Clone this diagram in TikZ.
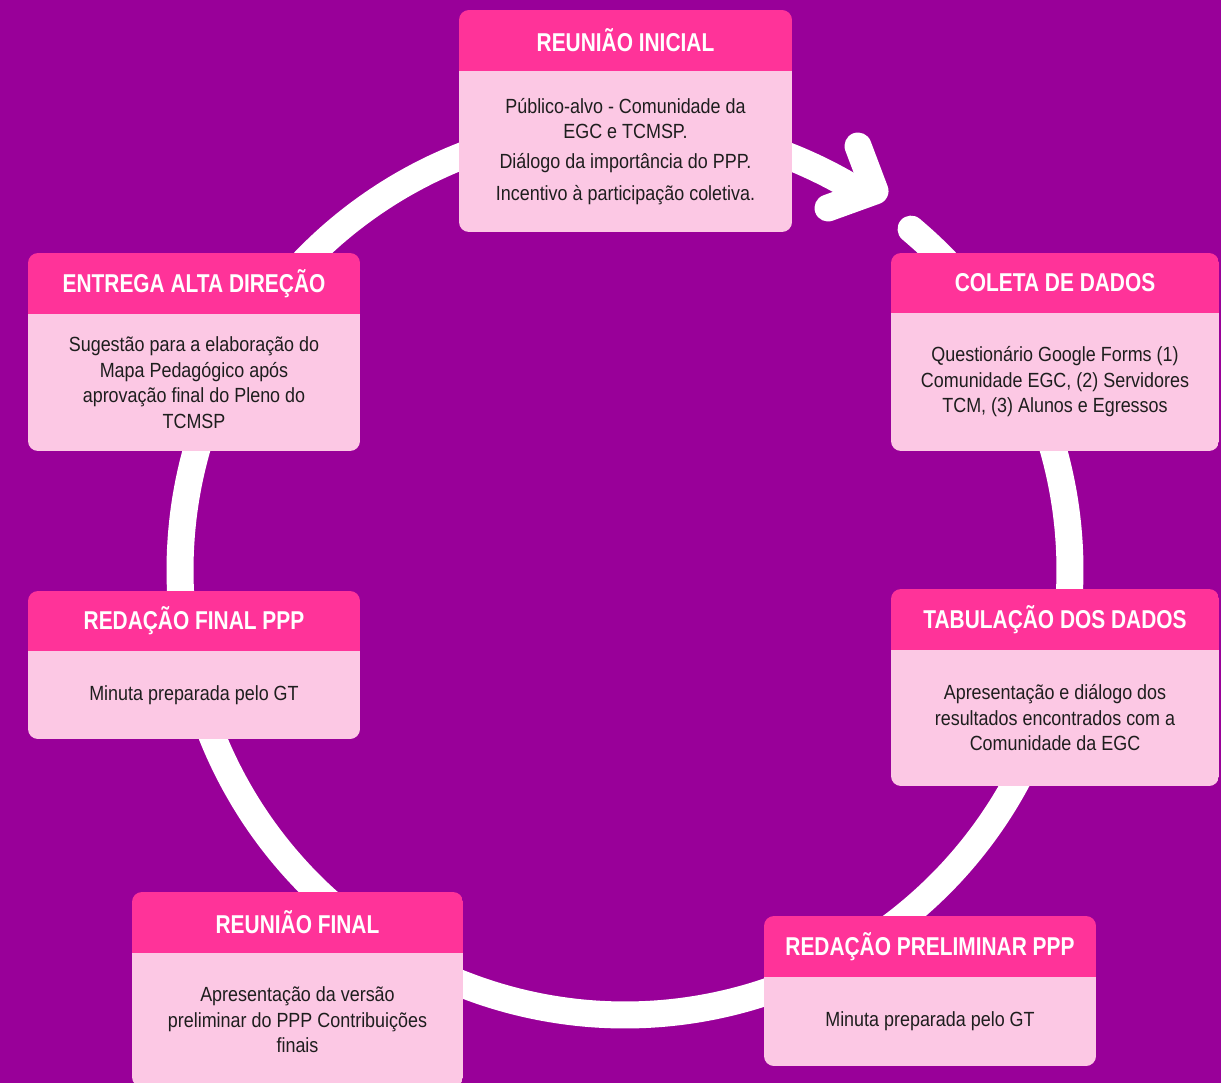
\documentclass[tikz,border=0pt]{standalone}
\usepackage{fontspec}
\setmainfont{Liberation Sans}[FakeStretch=0.875]
\newfontfamily\headfont{Liberation Sans}[FakeStretch=0.81]
\definecolor{bgpurple}{RGB}{153,0,153}
\definecolor{headpink}{RGB}{255,51,153}
\definecolor{bodypink}{RGB}{252,200,228}
\definecolor{txtdark}{RGB}{30,30,30}
\tikzset{
  ring/.style={draw=white, line width=27pt},
  titletxt/.style={text=white, inner sep=0pt, font=\headfont\bfseries\fontsize{25.8}{30}\selectfont},
  bodytxt/.style={text=txtdark, inner sep=0pt, align=center, font=\fontsize{20.5}{25.5}\selectfont},
}
\newcommand{\stagebox}[8]{%
  \begin{scope}
    \clip[rounded corners=10pt] (#2,#3) rectangle (#4,#6);
    \fill[bodypink] (#2,#5) rectangle (#4,#6);
    \fill[headpink] (#2,#3) rectangle (#4,#5);
  \end{scope}
  \node[titletxt] (#1-t) at ({(#2+#4)/2},{(#3+#5)/2}) {#7};
  \node[bodytxt] (#1-b) at ({(#2+#4)/2},{(#5+#6)/2}) {#8};
}
\begin{document}
\begin{tikzpicture}[x=1pt,y=-1pt]
\useasboundingbox (0,0) rectangle (1221,1083);
\fill[bgpurple] (0,0) rectangle (1221,1083);
% cycle ring
\draw[ring, line cap=round] plot[smooth, domain=-50:302, samples=160] ({625+445*cos(\x)},{570+445*sin(\x)});
% arrow head
\coordinate (ah1) at (858,146);
\coordinate (ahtip) at (875,191);
\coordinate (ah2) at (828,208);
\draw[ring, line cap=round, line join=round] (ah1) -- (ahtip) -- (ah2);
% stages
\stagebox{ini}{459}{10}{792}{71}{232}{REUNIÃO INICIAL}{Público-alvo - Comunidade da\\EGC e TCMSP.\\[4pt]Diálogo da importância do PPP.\\[7pt]Incentivo à participação coletiva.}
\stagebox{col}{891}{253}{1219}{313}{451}{COLETA DE DADOS}{Questionário Google Forms (1)\\Comunidade EGC, (2) Servidores\\TCM, (3) Alunos e Egressos}
\stagebox{ent}{28}{253}{360}{314}{451}{ENTREGA ALTA DIREÇÃO}{Sugestão para a elaboração do\\Mapa Pedagógico após\\aprovação final do Pleno do\\TCMSP}
\stagebox{rfi}{28}{591}{360}{651}{739}{REDAÇÃO FINAL PPP}{Minuta preparada pelo GT}
\stagebox{tab}{891}{589}{1219}{650}{786}{TABULAÇÃO DOS DADOS}{Apresentação e diálogo dos\\resultados encontrados com a\\Comunidade da EGC}
\stagebox{fin}{132}{892}{463}{953}{1087}{REUNIÃO FINAL}{Apresentação da versão\\preliminar do PPP Contribuições\\finais}
\stagebox{pre}{764}{916}{1096}{977}{1066}{REDAÇÃO PRELIMINAR PPP}{Minuta preparada pelo GT}
\end{tikzpicture}
\end{document}
